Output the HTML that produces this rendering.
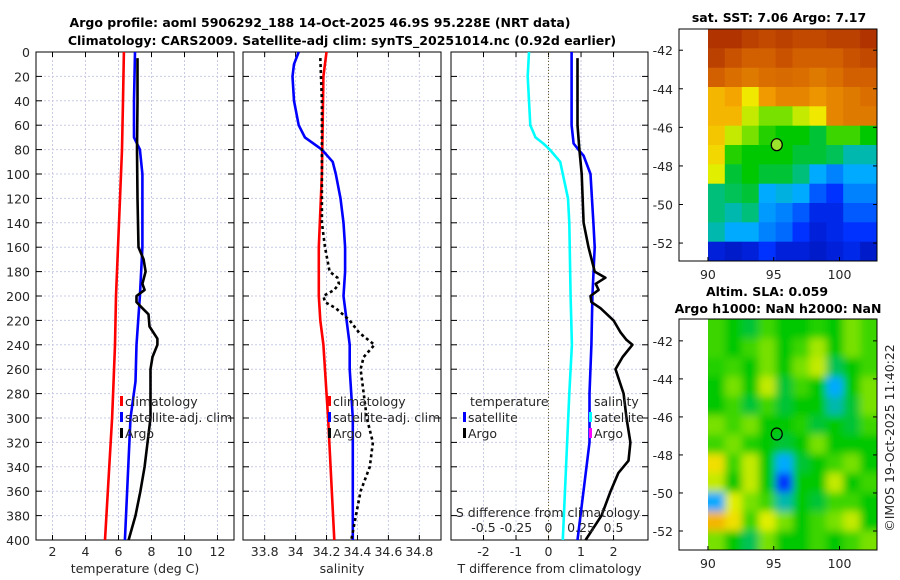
<!DOCTYPE html>
<html><head><meta charset="utf-8"><style>
body{margin:0;background:#fff;}
svg{display:block;font-family:"DejaVu Sans","Liberation Sans",sans-serif;}
.t{font-size:12.5px;fill:#262626;}
.b{font-size:12.5px;font-weight:bold;fill:#000;}
</style></head><body>
<svg id="c" width="900" height="580" xmlns="http://www.w3.org/2000/svg">
<text class="b" x="320" y="27" text-anchor="middle">Argo profile: aoml 5906292_188 14-Oct-2025 46.9S 95.228E (NRT data)</text>
<text class="b" x="342" y="45" text-anchor="middle">Climatology: CARS2009. Satellite-adj clim: synTS_20251014.nc (0.92d earlier)</text>
<g id="g"></g>
</svg>
<script>
// ---- temperature panel data ----
const tClimDepth=[0,40,80,120,140,200,240,280,300,400];
const tClim=[6.33,6.27,6.21,6.09,6.03,5.85,5.79,5.67,5.61,5.18];
const tSatDepth=[0,40,60,70,80,100,160,200,240,270,300,400];
const tSat=[7.0,6.94,6.94,6.94,7.3,7.45,7.45,7.3,7.09,7.03,6.73,6.39];
const tArgoDepth=[5,40,80,120,160,170,180,190,195,200,205,210,215,225,235,240,250,260,270,300,340,360,380,400];
const tArgo=[7.15,7.15,7.12,7.15,7.21,7.52,7.64,7.45,7.58,7.09,7.09,7.45,7.82,7.88,8.36,8.36,8.06,7.94,7.94,7.94,7.58,7.33,7.03,6.61];
// ---- salinity panel data ----
const sClimDepth=[0,20,100,160,200,220,240,300,400];
const sClim=[34.2,34.18,34.17,34.15,34.15,34.16,34.18,34.21,34.25];
const sSatDepth=[0,10,20,40,60,70,80,90,100,120,140,160,180,200,220,240,260,300,400];
const sSat=[34.02,33.99,33.98,33.99,34.02,34.06,34.17,34.24,34.26,34.29,34.31,34.32,34.32,34.31,34.33,34.35,34.35,34.37,34.37];
const sArgoDepth=[5,40,80,100,140,160,180,185,190,195,200,205,210,220,230,240,250,260,280,300,320,340,360,380,400];
const sArgo=[34.16,34.17,34.17,34.17,34.17,34.19,34.22,34.27,34.28,34.25,34.18,34.19,34.26,34.35,34.41,34.51,34.44,34.42,34.44,34.46,34.5,34.48,34.42,34.39,34.36];
// ---- difference panel data ----
const dSSatDepth=[0,20,40,60,70,75,80,90,100,120,140,200,240,280,400];
const dSSat=[-0.15,-0.16,-0.15,-0.14,-0.1,-0.04,0.01,0.09,0.11,0.15,0.16,0.17,0.18,0.16,0.11];
const dTSatDepth=[0,20,60,75,80,85,100,140,160,200,240,280,320,400];
const dTSat=[0.71,0.71,0.71,0.77,0.92,1.08,1.29,1.38,1.42,1.35,1.32,1.26,1.26,0.89];
const dTArgoDepth=[5,60,80,100,140,160,180,185,190,195,200,205,210,220,230,236,240,250,260,280,300,320,335,345,360,380,400];
const dTArgo=[0.89,0.89,0.95,1.02,1.08,1.23,1.42,1.75,1.45,1.54,1.29,1.32,1.6,2.0,2.22,2.4,2.58,2.28,2.06,2.31,2.4,2.52,2.46,2.15,1.91,1.63,1.14];
// ---- tick labels ----
const depthTicks=[0,20,40,60,80,100,120,140,160,180,200,220,240,260,280,300,320,340,360,380,400];
const tTicks=[2,4,6,8,10,12];
const sTicks=[33.8,34,34.2,34.4,34.6,34.8];
const dTTicks=[-2,-1,0,1,2];
const dSTicks=[-0.5,-0.25,0,0.25,0.5];
const latTicks=[-42,-44,-46,-48,-50,-52];
const lonTicks=[90,95,100];
// ---- map grids (normalised colour values, rows north->south, 10 cols) ----
const sstGrid=[
[.95,.95,.92,.9,.92,.9,.9,.92,.92,.95],
[.92,.88,.85,.85,.88,.85,.85,.85,.88,.9],
[.85,.82,.8,.82,.83,.82,.8,.82,.85,.85],
[.7,.72,.64,.74,.78,.78,.75,.78,.8,.82],
[.7,.7,.6,.55,.55,.6,.64,.78,.8,.8],
[.68,.6,.55,.48,.45,.45,.42,.5,.5,.45],
[.66,.48,.45,.45,.45,.42,.42,.4,.35,.35],
[.62,.42,.45,.42,.42,.38,.3,.25,.3,.3],
[.38,.4,.42,.3,.32,.3,.2,.15,.25,.25],
[.38,.35,.38,.28,.25,.2,.12,.12,.2,.2],
[.35,.3,.3,.25,.22,.15,.1,.12,.15,.15],
[.1,.08,.1,.15,.1,.1,.08,.1,.12,.08]];
const slaGrid=[
[.5,.45,.42,.5,.45,.45,.48,.45,.55,.5],
[.5,.45,.5,.55,.45,.5,.58,.45,.55,.5],
[.48,.5,.45,.55,.45,.55,.6,.4,.45,.5],
[.45,.55,.45,.6,.42,.5,.45,.3,.45,.55],
[.45,.5,.42,.5,.42,.45,.45,.35,.42,.55],
[.55,.5,.55,.45,.45,.48,.42,.45,.42,.5],
[.5,.55,.48,.45,.42,.45,.55,.45,.45,.45],
[.65,.5,.6,.45,.3,.42,.45,.5,.55,.45],
[.6,.45,.6,.45,.15,.45,.45,.6,.45,.5],
[.3,.62,.55,.5,.35,.45,.42,.5,.5,.45],
[.7,.65,.5,.62,.55,.45,.5,.55,.6,.45],
[.55,.45,.4,.55,.45,.45,.5,.45,.5,.55]];
const argoLon=95.23, argoLat=-46.9;

const NS="http://www.w3.org/2000/svg";
const G=document.getElementById('g');
function mk(tag,attrs,parent,txt){const e=document.createElementNS(NS,tag);for(const k in attrs)e.setAttribute(k,attrs[k]);if(txt!==undefined)e.textContent=txt;(parent||G).appendChild(e);return e;}
const Y0=52,Y1=540;
const yD=d=>Y0+(d/400)*(Y1-Y0);
function panel(name,x0,x1,xmin,xmax,ticks,label,showY){
  const xs=v=>x0+(v-xmin)/(xmax-xmin)*(x1-x0);
  const g=mk('g',{});
  
  
  ticks.forEach(v=>{const l=mk('line',{x1:xs(v),x2:xs(v),y1:Y0,y2:Y1,stroke:'#c9cbe6','stroke-width':1,'stroke-dasharray':'2,2'},g);
    
    mk('line',{x1:xs(v),x2:xs(v),y1:Y1,y2:Y1-5,stroke:'#000'},g);mk('line',{x1:xs(v),x2:xs(v),y1:Y0,y2:Y0+5,stroke:'#000'},g);
    const t=mk('text',{class:'t',x:xs(v),y:556,'text-anchor':'middle'},g,String(v));
    });
  depthTicks.forEach(d=>{const l=mk('line',{x1:x0,x2:x1,y1:yD(d),y2:yD(d),stroke:'#c9cbe6','stroke-width':1,'stroke-dasharray':'2,2'},g);
    
    mk('line',{x1:x0,x2:x0+6,y1:yD(d),y2:yD(d),stroke:'#000'},g);mk('line',{x1:x1,x2:x1-6,y1:yD(d),y2:yD(d),stroke:'#000'},g);
    if(showY){const t=mk('text',{class:'t',x:x0-6,y:yD(d)+5,'text-anchor':'end'},g,String(d));
      }});
  const r=mk('rect',{x:x0,y:Y0,width:x1-x0,height:Y1-Y0,fill:'none',stroke:'#000','stroke-width':1},g);
  
  const lb=mk('text',{class:'t',x:(x0+x1)/2,y:573,'text-anchor':'middle'},g,label);
  
  return {g,xs};
}
function line(p,xs,depths,vals,color,name,dash){
  const pts=vals.map((v,i)=>xs(v).toFixed(1)+','+yD(depths[i]).toFixed(1)).join(' ');
  const a={points:pts,fill:'none',stroke:color,'stroke-width':2.6,'stroke-linejoin':'round'};
  if(dash)a['stroke-dasharray']=dash;
  const e=mk('polyline',a,p);
  
  
}
function legend(p,x,y,color,text){
  mk('rect',{x:x,y:y-9,width:3,height:10,fill:color},p);
  const t=mk('text',{class:'t',x:x+5,y:y+1},p,text);
  
  
}
// panel 1
const P1=panel('temperature-panel',36,234,1,13,tTicks,'temperature (deg C)',true);
line(P1.g,P1.xs,tClimDepth,tClim,'#ff0000','climatology-temperature-line');
line(P1.g,P1.xs,tSatDepth,tSat,'#0000ff','satellite-adj-temperature-line');
line(P1.g,P1.xs,tArgoDepth,tArgo,'#000','argo-temperature-line');
legend(P1.g,120,405,'#ff0000','climatology');
legend(P1.g,120,421,'#0000ff','satellite-adj. clim');
legend(P1.g,120,437,'#000','Argo');
// panel 2
const P2=panel('salinity-panel',243,441,33.66,34.94,sTicks,'salinity',false);
line(P2.g,P2.xs,sClimDepth,sClim,'#ff0000','climatology-salinity-line');
line(P2.g,P2.xs,sSatDepth,sSat,'#0000ff','satellite-adj-salinity-line');
line(P2.g,P2.xs,sArgoDepth,sArgo,'#000','argo-salinity-line','3,3');
legend(P2.g,328,405,'#ff0000','climatology');
legend(P2.g,328,421,'#0000ff','satellite-adj. clim');
legend(P2.g,328,437,'#000','Argo');
// panel 3
const P3=panel('difference-panel',451,648,-3.0,3.06,dTTicks,'T difference from climatology',false);
const xsS=v=>548.5+v*130;
mk('line',{x1:P3.xs(0),x2:P3.xs(0),y1:Y0,y2:Y1,stroke:'#6b5a2a','stroke-width':1,'stroke-dasharray':'1,2'},P3.g);
line(P3.g,xsS,dSSatDepth,dSSat,'#00ffff','salinity-diff-satellite-line');
line(P3.g,P3.xs,dTSatDepth,dTSat,'#0000ff','temperature-diff-satellite-line');
line(P3.g,P3.xs,dTArgoDepth,dTArgo,'#000','temperature-diff-argo-line');
dSTicks.forEach(v=>{const t=mk('text',{class:'t',x:xsS(v),y:532,'text-anchor':'middle'},P3.g,String(v));
  });
{const t=mk('text',{class:'t',x:548,y:517,'text-anchor':'middle'},P3.g,'S difference from climatology');
 }
{const t=mk('text',{class:'t',x:470,y:406},P3.g,'temperature');}
{const t=mk('text',{class:'t',x:594,y:406},P3.g,'salinity');}
legend(P3.g,463,421,'#0000ff','satellite');
legend(P3.g,463,437,'#000','Argo');
legend(P3.g,589,421,'#00ffff','satellite');
legend(P3.g,589,437,'#ff00ff','Argo');

// maps
function cmap(v){
  const st=[[0,[0,0,140]],[.15,[0,50,255]],[.3,[0,170,255]],[.37,[0,190,140]],[.45,[0,200,0]],[.55,[120,225,0]],[.63,[240,240,0]],[.72,[245,165,0]],[.85,[210,95,0]],[1,[160,30,0]]];
  for(let i=1;i<st.length;i++){if(v<=st[i][0]){const a=st[i-1],b=st[i],f=(v-a[0])/(b[0]-a[0]);
    return 'rgb('+a[1].map((c,k)=>Math.round(c+(b[1][k]-c)*f)).join(',')+')';}}
  return 'rgb(160,30,0)';
}
function map(name,grid,top,bot,latTop,latBot,fillMarker,blur){
  const L=679,R=877,lonL=87.8,lonR=102.85;
  const xs=lo=>L+(lo-lonL)/(lonR-lonL)*(R-L);
  const ys=la=>top+(latTop-la)/(latTop-latBot)*(bot-top);
  const g=mk('g',{});
  
  
  const cp=mk('clipPath',{id:name+'-clip'},g);mk('rect',{x:xs(90),y:top,width:R-xs(90),height:bot-top},cp);
  const outer=mk('g',{'clip-path':'url(#'+name+'-clip)'},g);
  const cells=mk('g',blur?{filter:'url(#bl)'}:{},outer);
  const nr=grid.length,nc=grid[0].length;
  const pad=blur?1:0;
  for(let i=-pad;i<nr+pad;i++)for(let j=-pad;j<nc+pad;j++){
    const v=grid[Math.min(nr-1,Math.max(0,i))][Math.min(nc-1,Math.max(0,j))];
    const x0=xs(90+j*(12.85/nc)),x1=xs(90+(j+1)*(12.85/nc));
    const y0=ys(latTop-i*((latTop-latBot)/nr)),y1=ys(latTop-(i+1)*((latTop-latBot)/nr));
    const c=mk('rect',{x:x0.toFixed(1),y:y0.toFixed(1),width:(x1-x0+0.6).toFixed(1),height:(y1-y0+0.6).toFixed(1),fill:cmap(v)},cells);
    
    
  }
  latTicks.forEach(la=>{mk('line',{x1:L,x2:L+4,y1:ys(la),y2:ys(la),stroke:'#000'},g);mk('line',{x1:R,x2:R-4,y1:ys(la),y2:ys(la),stroke:'#000'},g);
    const t=mk('text',{class:'t',x:L-6,y:ys(la)+5,'text-anchor':'end'},g,String(la));
    });
  lonTicks.forEach(lo=>{mk('line',{x1:xs(lo),x2:xs(lo),y1:bot,y2:bot-4,stroke:'#000'},g);
    const t=mk('text',{class:'t',x:xs(lo),y:bot+18,'text-anchor':'middle'},g,String(lo));
    });
  mk('rect',{x:L,y:top,width:R-L,height:bot-top,fill:'none',stroke:'#000'},g);
  const m=mk('ellipse',{cx:xs(argoLon),cy:ys(argoLat),rx:5.5,ry:6,fill:fillMarker,stroke:'#000','stroke-width':1.2},g);
  
  
}
const defs=mk('defs',{});const f=mk('filter',{id:'bl',x:'-10%',y:'-10%',width:'120%',height:'120%'},defs);mk('feGaussianBlur',{stdDeviation:4},f);
map('sst-map',sstGrid,29,261,-40.9,-52.93,'#9be32c',false);
map('sla-map',slaGrid,319,550,-40.85,-53.0,'none',true);
{const t=mk('text',{class:'b',x:779,y:22,'text-anchor':'middle'},G,'sat. SST: 7.06 Argo: 7.17');}
{const t=mk('text',{class:'b',x:767,y:296,'text-anchor':'middle'},G,'Altim. SLA: 0.059');}
{const t=mk('text',{class:'b',x:778,y:313,'text-anchor':'middle'},G,'Argo h1000: NaN h2000: NaN');}
{const t=mk('text',{class:'t',x:0,y:0,'text-anchor':'middle',transform:'translate(894,438) rotate(-90)'},G,'©IMOS 19-Oct-2025 11:40:22');}
</script>
</body></html>
